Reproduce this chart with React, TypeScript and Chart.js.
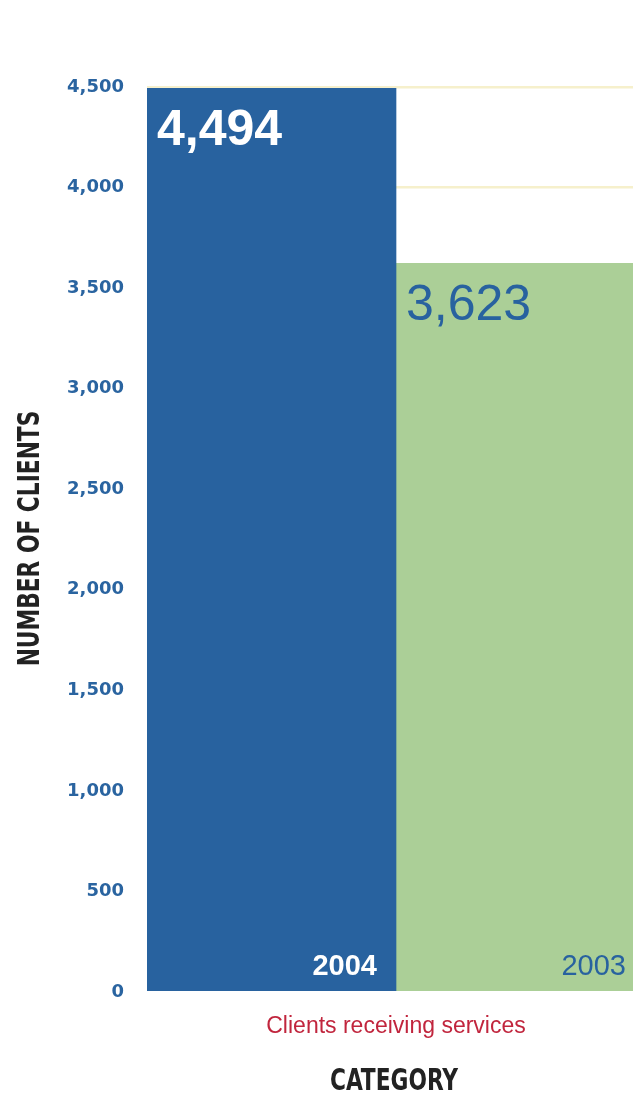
import React, { useEffect, useRef } from "react";
import { Chart, registerables } from "chart.js";

Chart.register(...registerables);

const categories = ["Clients receiving services"];
const seriesLabels = ["2004", "2003"];
const values2004 = [4494];
const values2003 = [3623];
const yTicks = [0, 500, 1000, 1500, 2000, 2500, 3000, 3500, 4000, 4500];
const xAxisTitle = "CATEGORY";
const yAxisTitle = "NUMBER OF CLIENTS";

const BLUE = "#28629f";
const GREEN = "#abcf97";
const TITLE_FONT = "bold 31px 'DejaVu Sans Condensed', 'DejaVu Sans', sans-serif";

const barLabels = {
  id: "barLabels",
  afterDatasetsDraw(chart: any) {
    const ctx = chart.ctx;
    chart.data.datasets.forEach((ds: any, i: number) => {
      const meta = chart.getDatasetMeta(i);
      meta.data.forEach((bar: any, j: number) => {
        const v = ds.data[j];
        const left = bar.x - bar.width / 2;
        const right = bar.x + bar.width / 2;
        const isFirst = i === 0;
        ctx.save();
        ctx.fillStyle = isFirst ? "#ffffff" : BLUE;
        ctx.textBaseline = "alphabetic";
        ctx.textAlign = "left";
        ctx.font = (isFirst ? "bold " : "") + "50px 'Liberation Sans', Arial, sans-serif";
        ctx.fillText(v.toLocaleString("en-US"), left + 10, bar.y + 57);
        ctx.textAlign = "right";
        ctx.font = (isFirst ? "bold " : "") + "29px 'Liberation Sans', Arial, sans-serif";
        ctx.fillText(ds.label, right - 19, bar.base - 16);
        ctx.restore();
      });
    });
  },
};

const axisTitles = {
  id: "axisTitles",
  afterDraw(chart: any) {
    const ctx = chart.ctx;
    const area = chart.chartArea;
    ctx.save();
    ctx.fillStyle = "#222222";
    ctx.font = TITLE_FONT;
    ctx.textAlign = "center";
    ctx.textBaseline = "alphabetic";
    // y-axis title
    ctx.save();
    ctx.translate(39, (area.top + area.bottom) / 2 - 1);
    ctx.rotate(-Math.PI / 2);
    ctx.scale(0.78, 1);
    ctx.fillText(yAxisTitle, 0, 0);
    ctx.restore();
    // x-axis title
    ctx.save();
    ctx.translate(chart.scales.x.getPixelForValue(0) - 2, 1090);
    ctx.scale(0.78, 1);
    ctx.fillText(xAxisTitle, 0, 0);
    ctx.restore();
    ctx.restore();
  },
};

export default function App() {
  const ref = useRef<HTMLCanvasElement | null>(null);
  useEffect(() => {
    if (!ref.current) return;
    const chart = new Chart(ref.current, {
      type: "bar",
      data: {
        labels: categories,
        datasets: [
          { label: seriesLabels[0], data: values2004, backgroundColor: BLUE },
          { label: seriesLabels[1], data: values2003, backgroundColor: GREEN },
        ],
      },
      options: {
        responsive: false,
        animation: false,
        layout: { padding: { top: 87, left: 0, right: 0, bottom: 0 } },
        datasets: { bar: { categoryPercentage: 1, barPercentage: 1 } },
        plugins: { legend: { display: false }, tooltip: { enabled: false } },
        scales: {
          x: {
            grid: { display: false, drawTicks: false },
            border: { display: false },
            ticks: {
              color: "#c1253d",
              padding: 21,
              font: { family: "'Liberation Sans', Arial, sans-serif", size: 23 },
            },
            afterFit(scale: any) {
              scale.height = 101;
            },
          },
          y: {
            min: 0,
            max: 4500,
            afterBuildTicks(scale: any) {
              scale.ticks = yTicks.map((v) => ({ value: v }));
            },
            grid: {
              color: (c: any) => (c.tick && c.tick.value === 0 ? "rgba(0,0,0,0)" : "#f6f0cc"),
              lineWidth: 2.5,
              drawTicks: false,
            },
            border: { display: false },
            ticks: {
              color: "#2a64a0",
              padding: 23,
              font: { family: "'DejaVu Sans', sans-serif", size: 18, weight: "bold" },
              callback: (v: any) => Number(v).toLocaleString("en-US"),
            },
            afterFit(scale: any) {
              scale.width = 147;
            },
          },
        },
      },
      plugins: [barLabels, axisTitles],
    });
    return () => chart.destroy();
  }, []);

  return (
    <div
      style={{
        position: "absolute",
        top: 0,
        left: 0,
        width: 633,
        height: 1093,
        overflow: "hidden",
        background: "#ffffff",
      }}
    >
      <canvas ref={ref} width={645} height={1093} style={{ display: "block" }} />
    </div>
  );
}
